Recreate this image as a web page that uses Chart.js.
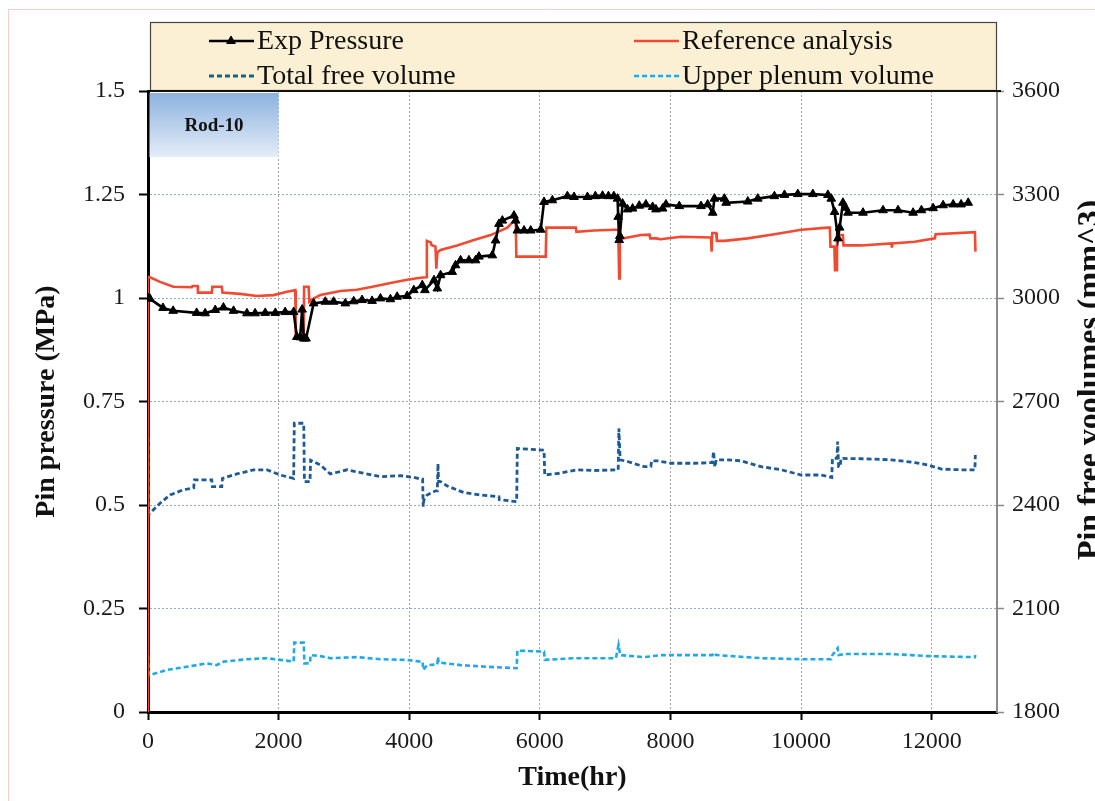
<!DOCTYPE html>
<html><head><meta charset="utf-8">
<script src="https://cdn.jsdelivr.net/npm/chart.js@4.4.1/dist/chart.umd.min.js"></script>
<style>html,body{margin:0;padding:0;background:#fff;}canvas{display:block;}</style>
</head><body>
<canvas id="c" width="1095" height="801"></canvas>
<script>
// ---------- data ----------
const seriesLabels = ['Exp Pressure', 'Reference analysis', 'Total free volume', 'Upper plenum volume'];

const expTime = [0,30,230,385,745,875,1030,1155,1310,1515,1640,1795,1950,2100,2230,2280,2330,2360,2385,2420,2536,2715,2843,3022,3150,3278,3431,3559,3712,3815,3968,4070,4200,4240,4380,4430,4480,4658,4709,4786,4914,5016,5067,5272,5323,5374,5426,5604,5630,5656,5758,5860,6013,6064,6192,6422,6524,6729,6850,6960,7050,7133,7190,7200,7215,7225,7267,7343,7420,7522,7624,7727,7778,7880,7931,8135,8468,8570,8647,8673,8826,8852,9184,9337,9592,9746,9950,10180,10411,10462,10513,10565,10590,10641,10680,10718,10948,11255,11485,11715,11843,12022,12175,12329,12450,12559];
const expPressure = [1.000,0.998,0.976,0.969,0.964,0.963,0.971,0.977,0.969,0.963,0.963,0.964,0.964,0.966,0.966,0.906,0.905,0.972,0.902,0.902,0.987,0.991,0.991,0.987,0.992,0.995,0.993,0.999,0.997,1.003,1.005,1.019,1.031,1.019,1.043,1.023,1.055,1.063,1.079,1.091,1.091,1.091,1.100,1.103,1.139,1.179,1.187,1.199,1.187,1.163,1.163,1.163,1.165,1.232,1.236,1.246,1.244,1.244,1.246,1.247,1.246,1.246,1.240,1.196,1.140,1.150,1.228,1.214,1.216,1.223,1.226,1.220,1.214,1.216,1.226,1.222,1.222,1.226,1.206,1.240,1.240,1.230,1.233,1.240,1.246,1.249,1.251,1.251,1.249,1.240,1.208,1.144,1.170,1.230,1.218,1.206,1.206,1.212,1.212,1.206,1.212,1.217,1.224,1.226,1.226,1.230];

const refTime = [0,0,30,184,388,670,680,760,765,977,985,1130,1140,1411,1667,1922,2128,2255,2262,2385,2390,2460,2470,2540,2640,2945,3200,3456,3712,3968,4172,4260,4270,4330,4340,4402,4415,4430,4480,4735,4990,5246,5502,5630,5640,6090,6100,6550,6560,6831,7138,7200,7215,7225,7267,7548,7680,7690,7778,7850,8160,8621,8630,8640,8700,8710,8826,9184,9592,10002,10411,10440,10450,10510,10520,10540,10550,10640,10650,10923,11383,11390,11400,11741,12048,12060,12662,12670];
const refPressure = [0,1.051,1.050,1.039,1.027,1.026,1.029,1.029,1.013,1.013,1.027,1.027,1.013,1.010,1.005,1.007,1.015,1.019,0.908,0.908,1.027,1.027,0.991,0.999,1.007,1.017,1.020,1.028,1.036,1.044,1.049,1.050,1.138,1.134,1.128,1.124,1.071,1.110,1.116,1.127,1.140,1.152,1.170,1.191,1.100,1.100,1.170,1.170,1.160,1.163,1.165,1.165,1.047,1.140,1.144,1.152,1.153,1.144,1.144,1.142,1.148,1.146,1.112,1.157,1.157,1.138,1.138,1.144,1.154,1.165,1.170,1.170,1.124,1.124,1.067,1.067,1.152,1.152,1.127,1.127,1.132,1.122,1.132,1.136,1.144,1.154,1.159,1.112];

const tfvTime = [0,10,30,184,337,542,700,710,977,985,1130,1140,1360,1616,1820,2025,2230,2240,2385,2395,2480,2490,2640,2792,3048,3252,3559,3866,4070,4172,4205,4214,4225,4274,4402,4430,4440,4450,4480,4582,4837,5093,5374,5380,5645,5655,6064,6075,6300,6576,6831,7164,7200,7210,7230,7343,7598,7700,7710,7803,8008,8365,8640,8660,8680,8700,8877,9082,9388,9695,10002,10309,10470,10480,10550,10560,10575,10600,10610,10923,11383,11741,11945,12150,12456,12662,12668];
const tfvVolume = [2595,2376,2376,2405,2429,2444,2450,2473,2473,2453,2453,2477,2490,2502,2502,2487,2477,2637,2637,2468,2468,2530,2516,2490,2502,2494,2482,2485,2480,2475,2475,2395,2415,2429,2441,2441,2520,2468,2468,2455,2436,2429,2424,2415,2410,2564,2559,2487,2492,2502,2500,2502,2502,2622,2531,2526,2511,2512,2528,2528,2521,2521,2523,2555,2510,2531,2531,2528,2511,2502,2487,2487,2480,2535,2535,2584,2511,2511,2535,2534,2531,2523,2516,2504,2502,2502,2545];

const upvTime = [0,10,30,286,593,900,1050,1160,1514,1820,2025,2230,2240,2385,2395,2480,2490,2640,2792,3200,3559,3968,4172,4205,4214,4274,4430,4440,4450,4480,4786,5195,5645,5655,6064,6075,6525,6700,7164,7205,7230,7598,7854,8640,8660,8700,9388,10002,10462,10480,10560,10575,10667,11383,11945,12662,12668];
const upvVolume = [1965,1907,1907,1922,1931,1941,1936,1946,1953,1956,1951,1946,2001,2001,1941,1941,1965,1962,1956,1959,1953,1951,1946,1946,1922,1936,1938,1960,1943,1943,1936,1931,1927,1978,1975,1951,1956,1956,1956,1994,1965,1959,1965,1965,1972,1965,1956,1953,1953,1965,1985,1965,1968,1968,1962,1959,1965];

const xTicks = [0, 2000, 4000, 6000, 8000, 10000, 12000];
const xTickLabels = ['0', '2000', '4000', '6000', '8000', '10000', '12000'];
const yTicks = [0, 0.25, 0.5, 0.75, 1, 1.25, 1.5];
const yTickLabels = ['0', '0.25', '0.5', '0.75', '1', '1.25', '1.5'];
const y2Ticks = [1800, 2100, 2400, 2700, 3000, 3300, 3600];
const y2TickLabels = ['1800', '2100', '2400', '2700', '3000', '3300', '3600'];

const xTitle = 'Time(hr)';
const yTitle = 'Pin pressure (MPa)';
const y2Title = 'Pin free voolumes (mm^3)';
const rodLabel = 'Rod-10';

// ---------- build ----------
function pts(xs, ys) { return xs.map((x, i) => ({x: x, y: ys[i]})); }
const SERIF = "'Liberation Serif', 'Times New Roman', serif";

function tickSetter(values) {
  return function (scale) { scale.ticks = values.map(v => ({value: v})); };
}
function labelFrom(values, labels) {
  return function (value) { const i = values.indexOf(value); return i >= 0 ? labels[i] : ''; };
}

const decor = {
  id: 'decor',
  beforeDraw(chart) {
    const ctx = chart.ctx;
    ctx.save();
    ctx.fillStyle = '#ffffff';
    ctx.fillRect(0, 0, chart.width, chart.height);
    ctx.strokeStyle = '#f3cfc6';
    ctx.lineWidth = 1;
    ctx.beginPath();
    ctx.moveTo(8.5, chart.height); ctx.lineTo(8.5, 9.5); ctx.lineTo(chart.width, 9.5);
    ctx.stroke();
    ctx.restore();
  },
  beforeDatasetsDraw(chart) {
    const ctx = chart.ctx;
    const a = chart.chartArea;
    const x0 = a.left + 1.5, x1 = chart.scales.x.getPixelForValue(2000);
    const y0 = a.top + 2, y1 = a.top + 66;
    ctx.save();
    const g = ctx.createLinearGradient(0, y0, 0, y1);
    g.addColorStop(0, '#8cb2df');
    g.addColorStop(1, '#e4edf8');
    ctx.fillStyle = g;
    ctx.fillRect(x0, y0, x1 - x0, y1 - y0);
    ctx.fillStyle = '#111';
    ctx.font = 'bold 19px ' + SERIF;
    ctx.textAlign = 'center';
    ctx.textBaseline = 'middle';
    ctx.fillText(rodLabel, (x0 + x1) / 2, (y0 + y1) / 2 + 1);
    ctx.restore();
  },
  afterDraw(chart) {
    const ctx = chart.ctx;
    const a = chart.chartArea;
    // legend box
    const bx0 = 150, bx1 = a.right, by0 = 22, by1 = a.top;
    ctx.save();
    ctx.fillStyle = '#fbf0d3';
    ctx.fillRect(bx0, by0, bx1 - bx0, by1 - by0);
    ctx.strokeStyle = '#444';
    ctx.lineWidth = 1.2;
    ctx.strokeRect(bx0 + 0.5, by0 + 0.5, bx1 - bx0 - 1, by1 - by0 - 1);
    ctx.strokeStyle = '#111';
    ctx.lineWidth = 2;
    ctx.beginPath(); ctx.moveTo(bx0, by1); ctx.lineTo(bx1 + 4, by1); ctx.stroke();

    const cols = [209, 634];
    const rows = [41, 76];
    ctx.font = '28px ' + SERIF;
    ctx.textAlign = 'left';
    ctx.textBaseline = 'alphabetic';
    chart.data.datasets.forEach((ds, i) => {
      const cx = cols[i % 2], cy = rows[Math.floor(i / 2)];
      ctx.save();
      ctx.strokeStyle = ds.borderColor;
      ctx.lineWidth = ds.borderWidth;
      ctx.setLineDash(ds.borderDash || []);
      ctx.beginPath(); ctx.moveTo(cx, cy); ctx.lineTo(cx + 45, cy); ctx.stroke();
      ctx.setLineDash([]);
      if (ds.pointRadius > 0) {
        ctx.fillStyle = ds.pointBackgroundColor;
        ctx.strokeStyle = ds.pointBorderColor;
        ctx.lineWidth = 1;
        Chart.helpers.drawPoint(ctx, {pointStyle: ds.pointStyle, radius: ds.pointRadius, borderWidth: 1, rotation: 0}, cx + 22, cy);
      }
      ctx.restore();
      ctx.fillStyle = '#111';
      ctx.fillText(ds.label, cx + 48, cy + 8);
    });

    // right axis title (reads bottom-to-top)
    ctx.translate(1099, 380);
    ctx.rotate(-Math.PI / 2);
    ctx.font = 'bold 32px ' + SERIF;
    ctx.textAlign = 'center';
    ctx.textBaseline = 'alphabetic';
    ctx.fillStyle = '#111';
    ctx.fillText(y2Title, 0, 0);
    ctx.restore();
  }
};

const gridDash = [2, 2];

new Chart(document.getElementById('c'), {
  type: 'line',
  data: {
    datasets: [
      {label: seriesLabels[0], data: pts(expTime, expPressure), yAxisID: 'y',
        borderColor: '#000000', borderWidth: 2.6, pointStyle: 'triangle', pointRadius: 5,
        pointBackgroundColor: '#000000', pointBorderColor: '#000000', pointBorderWidth: 1, tension: 0},
      {label: seriesLabels[1], data: pts(refTime, refPressure), yAxisID: 'y',
        borderColor: '#f04b32', borderWidth: 2.6, pointRadius: 0, tension: 0},
      {label: seriesLabels[2], data: pts(tfvTime, tfvVolume), yAxisID: 'y2',
        borderColor: '#1d5a96', borderWidth: 2.8, borderDash: [5, 3], pointRadius: 0, tension: 0},
      {label: seriesLabels[3], data: pts(upvTime, upvVolume), yAxisID: 'y2',
        borderColor: '#22a9e4', borderWidth: 2.6, borderDash: [5, 3], pointRadius: 0, tension: 0}
    ]
  },
  options: {
    responsive: false,
    animation: false,
    devicePixelRatio: 1,
    layout: {padding: {top: 91, left: 0, right: 0, bottom: 0}},
    plugins: {legend: {display: false}, tooltip: {enabled: false}},
    scales: {
      x: {
        type: 'linear', position: 'bottom', min: 0, max: 13000,
        afterBuildTicks: tickSetter(xTicks),
        afterFit: s => { s.height = 89; },
        ticks: {callback: labelFrom(xTicks, xTickLabels), font: {family: SERIF, size: 24}, color: '#1a1a1a', padding: 7, maxRotation: 0, autoSkip: false},
        grid: {color: 'rgba(125,135,150,0.75)', lineWidth: 1, tickColor: '#000', tickLength: 8, tickWidth: 2},
        border: {color: '#000', width: 3, dash: gridDash},
        title: {display: true, text: xTitle, font: {family: SERIF, size: 28, weight: 'bold'}, color: '#111', padding: {top: 0, bottom: 6}}
      },
      y: {
        type: 'linear', position: 'left', min: 0, max: 1.5,
        afterBuildTicks: tickSetter(yTicks),
        afterFit: s => { s.width = 148; },
        ticks: {callback: labelFrom(yTicks, yTickLabels), font: {family: SERIF, size: 24}, color: '#1a1a1a', padding: 14, autoSkip: false},
        grid: {color: 'rgba(110,145,175,0.75)', lineWidth: 1, tickColor: '#000', tickLength: 9, tickWidth: 2},
        border: {color: '#000', width: 3, dash: gridDash},
        title: {display: true, text: yTitle, font: {family: SERIF, size: 28, weight: 'bold'}, color: '#111', padding: {top: 30, bottom: 0}}
      },
      y2: {
        type: 'linear', position: 'right', min: 1800, max: 3600,
        afterBuildTicks: tickSetter(y2Ticks),
        afterFit: s => { s.width = 98; },
        ticks: {callback: labelFrom(y2Ticks, y2TickLabels), font: {family: SERIF, size: 24}, color: '#1a1a1a', padding: 8, autoSkip: false},
        grid: {drawOnChartArea: false, tickColor: '#8a8a8a', tickLength: 7, tickWidth: 1.5},
        border: {color: '#8a8a8a', width: 2},
        title: {display: false}
      }
    }
  },
  plugins: [decor]
});
</script>
</body></html>
